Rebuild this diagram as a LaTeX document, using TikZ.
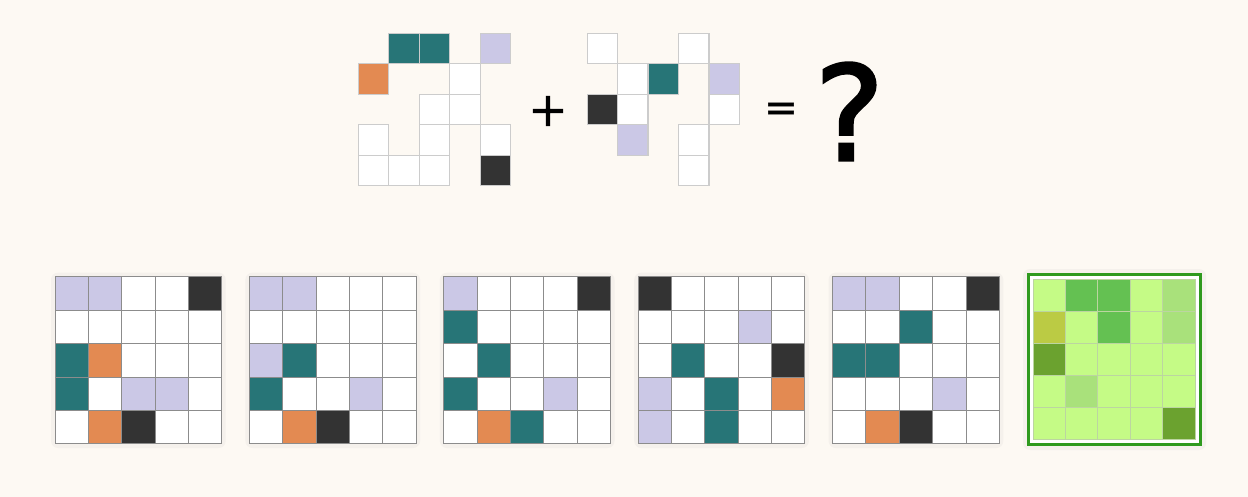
\documentclass[tikz,border=0pt]{standalone}
\usepackage{fontspec}
\setmainfont{Liberation Sans}
\newfontfamily\signfont[FakeBold=1]{DejaVu Sans}
\newfontfamily\queryfont[FakeBold=2]{DejaVu Sans}
\definecolor{bgcream}{HTML}{FDF9F3}
\definecolor{cardbg}{HTML}{F5F1EC}
\definecolor{cW}{HTML}{FFFFFF}
\definecolor{cL}{HTML}{CBC8E6}
\definecolor{cT}{HTML}{277577}
\definecolor{cO}{HTML}{E38A52}
\definecolor{cK}{HTML}{333333}
\definecolor{hA}{HTML}{C5FB86}
\definecolor{hB}{HTML}{64C152}
\definecolor{hC}{HTML}{BBCB44}
\definecolor{hD}{HTML}{6BA22F}
\definecolor{hE}{HTML}{A9E17B}
\definecolor{hframe}{HTML}{2F9A1E}
\begin{document}
\begin{tikzpicture}[
    x=0.02cm, y=-0.02cm,
    every node/.style={inner sep=0pt, text=black},
    piececell/.style={draw=black!20, line width=0.7pt},
    gridcell/.style={draw=black!45, line width=0.55pt},
    heatcell/.style={draw=hD!45, line width=0.5pt},
    sign/.style={font=\signfont\fontsize{27}{27}\selectfont}
]
\fill[bgcream] (0,0) rectangle (1248,497);
\useasboundingbox (0,0) rectangle (1248,497);

% the two pieces
\foreach \c/\r/\k in {1/0/T,2/0/T,4/0/L,0/1/O,3/1/W,2/2/W,3/2/W,0/3/W,2/3/W,4/3/W,0/4/W,1/4/W,2/4/W,4/4/K}
  \draw[piececell, fill=c\k] ({358.3+30.5*\c},{33.3+30.5*\r}) rectangle ++(30.5,30.5);
\foreach \c/\r/\k in {0/0/W,3/0/W,1/1/W,2/1/T,4/1/L,0/2/K,1/2/W,4/2/W,1/3/L,3/3/W,3/4/W}
  \draw[piececell, fill=c\k] ({587.3+30.4*\c},{33.3+30.5*\r}) rectangle ++(30.4,30.5);

\node[sign] (plus) at (548,111) {+};
\node[sign, font=\signfont\fontsize{23}{23}\selectfont] (equals) at (781,112) {=};
\node[font=\queryfont\fontsize{75}{75}\selectfont] (question) at (849.5,111.5) {?};

% answer options
\foreach \g/\cells in {
    0/{{L,L,W,W,K},{W,W,W,W,W},{T,O,W,W,W},{T,W,L,L,W},{W,O,K,W,W}},
    1/{{L,L,W,W,W},{W,W,W,W,W},{L,T,W,W,W},{T,W,W,L,W},{W,O,K,W,W}},
    2/{{L,W,W,W,K},{T,W,W,W,W},{W,T,W,W,W},{T,W,W,L,W},{W,O,T,W,W}},
    3/{{K,W,W,W,W},{W,W,W,L,W},{W,T,W,W,K},{L,W,T,W,O},{L,W,T,W,W}},
    4/{{L,L,W,W,K},{W,W,T,W,W},{T,T,W,W,W},{W,W,W,L,W},{W,O,K,W,W}}} {
  \pgfmathsetmacro\xo{55+194.4*\g}
  \fill[cardbg, rounded corners=4pt] (\xo-4,272.7) rectangle ++(174.7,175.3);
  \foreach \rowlist [count=\r from 0] in \cells
    \foreach \k [count=\c from 0] in \rowlist
      \draw[gridcell, fill=c\k] ({\xo+33.35*\c},{276.7+33.45*\r}) rectangle ++(33.35,33.45);
}

% highlighted heat map
\fill[cardbg, rounded corners=4pt] (1023,269) rectangle (1206,450);
\draw[hframe, line width=1.8pt, fill=white] (1028.4,274.1) rectangle (1200.3,444.9);
\foreach \rowlist [count=\r from 0] in {{A,B,B,A,E},{C,A,B,A,E},{D,A,A,A,A},{A,E,A,A,A},{A,A,A,A,D}}
  \foreach \k [count=\c from 0] in \rowlist
    \draw[heatcell, fill=h\k] ({1033+32.4*\c},{279+32*\r}) rectangle ++(32.4,32);
\end{tikzpicture}
\end{document}
